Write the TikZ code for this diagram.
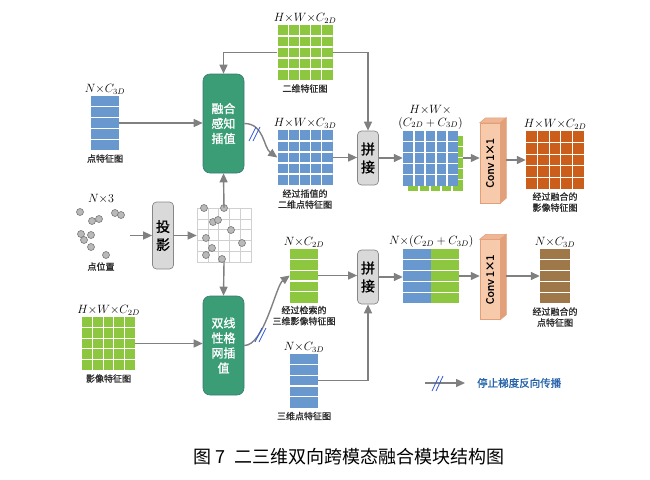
\documentclass[tikz,border=0pt]{standalone}
\usepackage[no-math]{fontspec}
\setmainfont{Noto Sans CJK SC}[AutoFakeBold=1.2]
\usepackage{graphicx}
\usepackage{xcolor}
\usetikzlibrary{arrows.meta,positioning,calc}

\definecolor{cellblue}{RGB}{104,152,206}
\definecolor{cellgreen}{RGB}{141,198,63}
\definecolor{cellorange}{RGB}{204,94,28}
\definecolor{cellbrown}{RGB}{158,120,72}
\definecolor{fusegreen}{RGB}{58,157,117}
\definecolor{fuseedge}{RGB}{62,120,120}
\definecolor{catgray}{RGB}{217,217,217}
\definecolor{catedge}{RGB}{135,135,135}
\definecolor{arrgray}{RGB}{128,128,128}
\definecolor{convfront}{RGB}{248,202,172}
\definecolor{convside}{RGB}{226,160,122}
\definecolor{convtop}{RGB}{238,182,148}
\definecolor{cutblue}{RGB}{50,90,210}
\definecolor{legblue}{RGB}{40,100,170}
\definecolor{gridline}{RGB}{208,208,208}
\definecolor{ptfill}{RGB}{185,185,185}
\definecolor{ptedge}{RGB}{120,120,120}
\definecolor{labelgray}{RGB}{45,45,45}

\begin{document}
\begin{tikzpicture}[x=1pt,y=-1pt]
\tikzset{arr/.style={draw=arrgray,line width=1.4pt,-{Triangle[length=9pt,width=8pt]}}}
\tikzset{cutmark/.style={draw=cutblue,line width=0.8pt}}
\tikzset{gridcells/.style 2 args={path picture={
  \foreach \k in {1,...,4}{
    \draw[#1,line width=#2]
      ($(path picture bounding box.north west)!\k/5!(path picture bounding box.north east)$) --
      ($(path picture bounding box.south west)!\k/5!(path picture bounding box.south east)$)
      ($(path picture bounding box.north west)!\k/5!(path picture bounding box.south west)$) --
      ($(path picture bounding box.north east)!\k/5!(path picture bounding box.south east)$);}}}}
\tikzset{rowcells/.style={path picture={
  \foreach \k in {1,...,4}{
    \draw[white,line width=1.2pt]
      ($(path picture bounding box.north west)!\k/5!(path picture bounding box.south west)$) --
      ($(path picture bounding box.north east)!\k/5!(path picture bounding box.south east)$);}}}}
\tikzset{fmap/.style={inner sep=0pt,minimum size=55pt,gridcells={white}{1.2pt}}}
\tikzset{fcol/.style={inner sep=0pt,minimum width=28pt,minimum height=54pt,rowcells}}
\tikzset{fusebox/.style={fill=fusegreen,draw=fuseedge,line width=0.6pt,rounded corners=7pt,
  minimum width=41pt,minimum height=99pt,inner sep=0pt,text=white,align=center,
  font=\fontsize{12}{15}\selectfont\bfseries}}
\tikzset{catbox/.style={fill=catgray,draw=catedge,line width=0.7pt,rounded corners=4pt,
  minimum width=21pt,minimum height=54pt,inner sep=0pt,align=center,
  font=\fontsize{14}{18}\selectfont\bfseries}}
\tikzset{convbox/.style={fill=convfront,draw=convside,line width=0.5pt,
  minimum width=20pt,minimum height=80pt,inner sep=0pt,font=\fontsize{10.5}{12}\selectfont\bfseries}}
\tikzset{dimlbl/.style={inner sep=1pt,font=\fontsize{11.5}{13}\selectfont,align=center}}
\tikzset{namelbl/.style={inner sep=1pt,text=labelgray,align=center,font=\fontsize{9}{11}\selectfont\bfseries}}
\tikzset{dot/.style={fill=ptfill,draw=ptedge,line width=0.6pt}}

\useasboundingbox (0,0) rectangle (650,479);

% upper branch
\node[fmap,fill=cellgreen] (g2d) at (305,52.5) {};
\node[dimlbl,above=0pt of g2d] {$H{\times}W{\times}C_{2D}$};
\node[namelbl,below=3pt of g2d] {二维特征图};

\node[fusebox] (fuse) at (223.5,123.5) {融合\\感知\\插值};

\node[fcol,fill=cellblue] (p3d) at (105,123) {};
\node[dimlbl,above=0pt of p3d] {$N{\times}C_{3D}$};
\node[namelbl,below=3pt of p3d] {点特征图};

\node[fmap,fill=cellblue] (g3d) at (305,157.5) {};
\node[dimlbl,above=0pt of g3d] {$H{\times}W{\times}C_{3D}$};
\node[namelbl,below=3pt of g3d] {经过插值的\\二维点特征图};

\node[catbox] (cat1) at (368,158) {拼\\接};

\node[fmap,fill=cellgreen] (cc1g) at (435.5,163) {};
\node[fmap,fill=cellblue] (cc1) at (430.5,158) {};
\node[dimlbl,above=0pt of cc1] {$H{\times}W{\times}$\\$(C_{2D}+C_{3D})$};

\node[convbox] (conv1) at (490,163) {\rotatebox{90}{Conv 1×1}};
\filldraw[fill=convtop,draw=convside,line width=0.5pt] (conv1.north west) -- ([shift={(6,-5)}]conv1.north west)
  -- ([shift={(6,-5)}]conv1.north east) -- (conv1.north east) -- cycle;
\filldraw[fill=convside,draw=convside,line width=0.5pt] (conv1.north east) -- ([shift={(6,-5)}]conv1.north east)
  -- ([shift={(6,-5)}]conv1.south east) -- (conv1.south east) -- cycle;

\node[fmap,fill=cellorange,minimum size=58pt] (out1) at (555,160) {};
\node[dimlbl,above=0pt of out1] {$H{\times}W{\times}C_{2D}$};
\node[namelbl,below=2pt of out1] {经过融合的\\影像特征图};

% lower branch
\node[inner sep=0pt,minimum width=58pt,minimum height=50pt] (cloud) at (101,234) {};
\node[dimlbl,above=4pt of cloud] {$N{\times}3$};
\node[namelbl,below=2pt of cloud] {点位置};
\foreach \p in {(80,212),(92,221),(99,219),(115,213),(121,215),(81,234),(84,240),(91,235),(91,247),(106,255)}
  \filldraw[dot] \p circle (3.5pt);

\node[catbox,minimum height=67pt] (prj) at (163,235.5) {投\\影};

\node[inner sep=0pt,minimum size=54pt,fill=white,draw=gridline,line width=0.6pt,gridcells={gridline}{0.6pt}] (pgrid) at (224,235) {};
\foreach \p in {(204,208),(224,208),(213,222),(218,220),(231,230),(206,238),(242,243),(212,248),(206,255),(222,259)}
  \filldraw[dot] \p circle (3.5pt);

\node[fusebox] (bil) at (223.5,345.5) {双线\\性格\\网插\\值};

\node[fmap,fill=cellgreen,minimum size=53pt] (img) at (108.5,343.5) {};
\node[dimlbl,above=0pt of img] {$H{\times}W{\times}C_{2D}$};
\node[namelbl,below=3pt of img] {影像特征图};

\node[fcol,fill=cellgreen] (r2d) at (304,275.5) {};
\node[dimlbl,above=0pt of r2d] {$N{\times}C_{2D}$};
\node[namelbl,below=2pt of r2d] {经过检索的\\三维影像特征图};

\node[fcol,fill=cellblue] (c3db) at (304,380.5) {};
\node[dimlbl,above=0pt of c3db] {$N{\times}C_{3D}$};
\node[namelbl,below=3pt of c3db] {三维点特征图};

\node[catbox] (cat2) at (368,277) {拼\\接};

\node[fcol,fill=cellblue] (cc2b) at (417,276) {};
\node[fcol,fill=cellgreen] (cc2g) at (445,276) {};
\node[dimlbl,above=0pt of cc2b.north east] {$N{\times}(C_{2D}+C_{3D})$};

\node[convbox] (conv2) at (490,279.5) {\rotatebox{90}{Conv 1×1}};
\filldraw[fill=convtop,draw=convside,line width=0.5pt] (conv2.north west) -- ([shift={(6,-5)}]conv2.north west)
  -- ([shift={(6,-5)}]conv2.north east) -- (conv2.north east) -- cycle;
\filldraw[fill=convside,draw=convside,line width=0.5pt] (conv2.north east) -- ([shift={(6,-5)}]conv2.north east)
  -- ([shift={(6,-5)}]conv2.south east) -- (conv2.south east) -- cycle;

\node[fcol,fill=cellbrown,minimum width=30pt] (out2) at (555,276) {};
\node[dimlbl,above=0pt of out2] {$N{\times}C_{3D}$};
\node[namelbl,below=3pt of out2] {经过融合的\\点特征图};

% connectors
\draw[arr] (g2d.west) -| (fuse.north);
\draw[arr] (g2d.east) -| (cat1.north);
\draw[arr] (p3d.east) -- (p3d.east -| fuse.west);
\draw[arr] (fuse.east) .. controls +(20,0) and +(-14,-10) .. (g3d.west);
\draw[arr] (g3d.east) -- (g3d.east -| cat1.west);
\draw[arr] (cat1.east) -- (cat1.east -| cc1.west);
\draw[arr] (cc1g.east |- cc1.east) -- (cc1.east -| conv1.west);
\draw[arr] ($(conv1.east |- out1.west)+(6,0)$) -- (out1.west);

\draw[arr] (cloud.east |- prj.west) -- (prj.west);
\draw[arr] (prj.east) -- (prj.east -| pgrid.west);
\draw[arr] (pgrid.north) -- (fuse.south);
\draw[arr] (pgrid.south) -- (bil.north);
\draw[arr] (img.east) -- (img.east -| bil.west);
\draw[arr] (bil.east) .. controls +(20,0) and +(-14,10) .. (r2d.west);
\draw[arr] (r2d.east) -- (r2d.east -| cat2.west);
\draw[arr] (c3db.east) -| (cat2.south);
\draw[arr] (cat2.east) -- (cat2.east -| cc2b.west);
\draw[arr] (cc2g.east) -- (cc2g.east -| conv2.west);
\draw[arr] ($(conv2.east |- out2.west)+(6,0)$) -- (out2.west);

% legend
\coordinate (legA) at (425,383);
\coordinate (legB) at (465,383);
\draw[arr] (legA) -- (legB);
\node[right=12pt of legB,inner sep=0pt,text=legblue,font=\fontsize{10.5}{12}\selectfont\bfseries] (legtext) {停止梯度反向传播};

% stop-gradient marks
\foreach \d in {0,4}{
  \draw[cutmark] (249+\d,141) -- (256+\d,127);
  \draw[cutmark] (255+\d,342) -- (262+\d,328);
  \draw[cutmark] (432+\d,391) -- (439+\d,376);
}

\node[font=\fontsize{18}{20}\selectfont] (caption) at (349,457) {图 7\ \ 二三维双向跨模态融合模块结构图};
\end{tikzpicture}
\end{document}
